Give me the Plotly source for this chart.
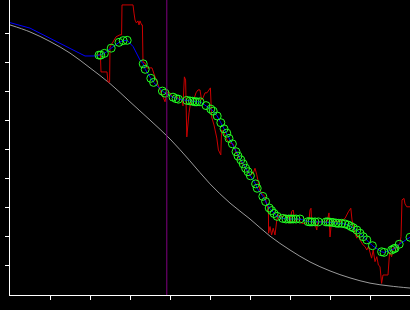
import plotly.graph_objects as go

# Reference (gray) curve
gray_x = [0, 0.5, 1, 1.5, 2, 2.5, 3, 3.5, 4, 4.5, 5, 5.5, 6, 6.5, 7, 7.5, 8, 8.5, 9, 9.5, 10]
gray_y = [9.31, 9.07, 8.74, 8.34, 7.83, 7.29, 6.66, 6.03, 5.38, 4.62, 3.83, 3.17, 2.62, 2.03,
          1.55, 1.14, 0.83, 0.59, 0.41, 0.31, 0.24]

# Raw (red) series
red_x = [2.17, 2.26, 2.275, 2.425, 2.45, 2.49, 2.5, 2.65, 2.75, 2.79, 2.80, 3.075, 3.10, 3.125,
         3.16, 3.2, 3.225, 3.25, 3.29, 3.31, 3.325, 3.375, 3.425, 3.55, 3.6, 3.65, 3.7, 3.75,
         3.825, 3.875, 3.925, 4.0, 4.05, 4.2, 4.3, 4.325, 4.36, 4.39, 4.42, 4.475, 4.525, 4.575,
         4.65, 4.7, 4.75, 4.79, 4.825, 4.875, 4.925, 4.975, 5.01, 5.04, 5.1, 5.17, 5.21, 5.27,
         5.29, 5.35, 5.425, 5.5, 5.575, 5.65, 5.75, 5.85, 5.95, 6.0, 6.08, 6.125, 6.17, 6.21,
         6.25, 6.29, 6.375, 6.42, 6.46, 6.465, 6.5, 6.54, 6.58, 6.625, 6.67, 6.71, 6.79, 6.875,
         6.96, 7.0, 7.04, 7.08, 7.125, 7.2, 7.29, 7.375, 7.475, 7.5, 7.525, 7.54, 7.625, 7.67,
         7.69, 7.79, 7.925, 7.975, 8.0, 8.04, 8.08, 8.25, 8.375, 8.46, 8.52, 8.55, 8.58, 8.625,
         8.67, 8.71, 8.75, 8.83, 8.875, 8.92, 8.96, 9.0, 9.04, 9.08, 9.125, 9.17, 9.21, 9.25,
         9.29, 9.325, 9.45, 9.49, 9.54, 9.58, 9.67, 9.75, 9.775, 9.8, 9.85, 9.875, 9.92, 10.0]
red_y = [8.28, 8.28, 7.69, 7.69, 7.34, 7.34, 8.55, 8.90, 8.97, 8.97, 10.0, 10.0, 9.72, 9.48,
         9.38, 9.45, 9.31, 9.45, 9.31, 9.31, 8.03, 8.0, 7.83, 7.83, 7.62, 7.41, 7.21, 7.07,
         6.83, 6.66, 6.97, 6.97, 6.83, 6.79, 6.72, 6.52, 7.52, 7.41, 5.45, 6.28, 6.72, 6.66,
         6.97, 7.07, 7.07, 6.72, 6.79, 6.97, 6.97, 7.10, 7.14, 6.14, 5.86, 5.41, 5.0, 4.83,
         5.69, 5.59, 5.34, 5.24, 5.21, 4.93, 4.66, 4.45, 4.24, 4.14, 4.20, 4.37, 4.14, 3.85,
         3.62, 3.51, 3.39, 3.10, 2.93, 2.13, 2.36, 2.07, 2.30, 2.07, 2.59, 2.76, 2.70, 2.76,
         2.70, 2.47, 2.87, 2.93, 2.53, 2.62, 2.47, 2.47, 2.59, 2.93, 2.99, 2.53, 2.47, 2.24,
         2.53, 2.53, 2.52, 2.83, 2.0, 2.55, 2.53, 2.53, 2.64, 2.87, 2.99, 2.59, 2.36, 2.13,
         1.96, 2.07, 1.90, 1.72, 1.67, 1.55, 1.67, 1.44, 1.27, 1.55, 1.15, 1.32, 1.03, 0.98,
         0.40, 0.69, 0.69, 1.48, 1.32, 1.62, 1.61, 1.79, 2.01, 3.28, 3.33, 3.14, 3.04, 3.04]

# Smoothed (blue) series
blue_x = [0, 0.25, 0.5, 1.0, 1.42, 1.75, 1.875, 2.17,
          2.225, 2.27, 2.36, 2.53, 2.725, 2.83, 2.93, 3.08, 3.17, 3.25,
          3.33, 3.38, 3.52, 3.59, 3.81, 3.875, 4.075, 4.15, 4.21, 4.42, 4.5, 4.56, 4.625,
          4.67, 4.75, 4.9, 5.02, 5.08, 5.18, 5.27, 5.35, 5.42, 5.475, 5.56, 5.65, 5.7, 5.77,
          5.83, 5.89, 5.95, 6.01, 6.14, 6.18, 6.32, 6.39, 6.48, 6.54, 6.6, 6.68, 6.82, 6.9,
          6.97, 7.025, 7.08, 7.15, 7.25, 7.45, 7.5, 7.55, 7.625, 7.71, 7.9, 7.95, 8.0, 8.075,
          8.15, 8.21, 8.29, 8.375, 8.46, 8.525, 8.58, 8.67, 8.75, 8.83, 8.92, 9.06, 9.29,
          9.35, 9.54, 9.59, 9.625, 9.73, 10.0]
blue_y = [9.39, 9.29, 9.20, 8.85, 8.56, 8.33, 8.24, 8.24,
          8.27, 8.27, 8.33, 8.51, 8.71, 8.77, 8.78, 8.56, 8.33, 8.10,
          7.97, 7.78, 7.47, 7.33, 7.03, 6.96, 6.82, 6.77, 6.75, 6.71, 6.69, 6.68, 6.66,
          6.66, 6.66, 6.53, 6.41, 6.34, 6.17, 5.94, 5.73, 5.58, 5.40, 5.21, 4.94, 4.79, 4.66,
          4.52, 4.37, 4.25, 4.11, 3.83, 3.68, 3.40, 3.22, 3.00, 2.91, 2.81, 2.71, 2.64, 2.62,
          2.62, 2.62, 2.62, 2.62, 2.62, 2.53, 2.52, 2.52, 2.52, 2.52, 2.52, 2.52, 2.51, 2.50,
          2.48, 2.47, 2.47, 2.45, 2.41, 2.36, 2.32, 2.24, 2.13, 2.01, 1.90, 1.70, 1.49,
          1.47, 1.55, 1.59, 1.61, 1.75, 1.99]

# Selected points (green circles)
mark_x = [2.225, 2.27, 2.36, 2.53, 2.725, 2.83, 2.93,
          3.33, 3.38, 3.52, 3.59, 3.81, 3.875, 4.075, 4.15, 4.21, 4.42, 4.5, 4.56, 4.625,
          4.67, 4.75, 4.9, 5.02, 5.08, 5.18, 5.27, 5.35, 5.42, 5.475, 5.56, 5.65, 5.7, 5.77,
          5.83, 5.89, 5.95, 6.01, 6.14, 6.18, 6.32, 6.39, 6.48, 6.54, 6.6, 6.68, 6.82, 6.9,
          6.97, 7.025, 7.08, 7.15, 7.25, 7.45, 7.5, 7.55, 7.625, 7.71, 7.9, 7.95, 8.0, 8.075,
          8.15, 8.21, 8.29, 8.375, 8.46, 8.525, 8.58, 8.67, 8.75, 8.83, 8.92, 9.06, 9.29,
          9.35, 9.54, 9.59, 9.625, 9.73, 10.0]
mark_y = [8.27, 8.27, 8.33, 8.51, 8.71, 8.77, 8.78,
          7.97, 7.78, 7.47, 7.33, 7.03, 6.96, 6.82, 6.77, 6.75, 6.71, 6.69, 6.68, 6.66,
          6.66, 6.66, 6.53, 6.41, 6.34, 6.17, 5.94, 5.73, 5.58, 5.40, 5.21, 4.94, 4.79, 4.66,
          4.52, 4.37, 4.25, 4.11, 3.83, 3.68, 3.40, 3.22, 3.00, 2.91, 2.81, 2.71, 2.64, 2.62,
          2.62, 2.62, 2.62, 2.62, 2.62, 2.53, 2.52, 2.52, 2.52, 2.52, 2.52, 2.52, 2.51, 2.50,
          2.48, 2.47, 2.47, 2.45, 2.41, 2.36, 2.32, 2.24, 2.13, 2.01, 1.90, 1.70, 1.49,
          1.47, 1.55, 1.59, 1.61, 1.75, 1.99]

vline_x = 3.92
x_ticks = [1, 2, 3, 4, 5, 6, 7, 8, 9]
y_ticks = [1, 2, 3, 4, 5, 6, 7, 8, 9]

fig = go.Figure()
fig.add_trace(go.Scatter(x=gray_x, y=gray_y, mode="lines",
                         line=dict(color="#9a9a9a", width=1, shape="spline"), hoverinfo="skip"))
fig.add_vline(x=vline_x, line=dict(color="#800080", width=1))
fig.add_trace(go.Scatter(x=red_x, y=red_y, mode="lines",
                         line=dict(color="#cc0000", width=1), hoverinfo="skip"))
fig.add_trace(go.Scatter(x=blue_x, y=blue_y, mode="lines",
                         line=dict(color="#0000ff", width=1), hoverinfo="skip"))
fig.add_trace(go.Scatter(x=mark_x, y=mark_y, mode="markers",
                         marker=dict(symbol="circle-open", size=8, color="#22ff22",
                                     line=dict(width=1, color="#22ff22")),
                         hoverinfo="skip"))

axis_common = dict(showgrid=False, zeroline=False, showline=True, linecolor="white",
                   linewidth=1, ticks="outside", ticklen=4, tickcolor="white",
                   tickwidth=1, showticklabels=False)
fig.update_layout(
    width=410, height=310,
    margin=dict(l=10, r=0, t=0, b=15),
    paper_bgcolor="black", plot_bgcolor="black",
    showlegend=False,
    xaxis=dict(range=[0, 10], tickvals=x_ticks, **axis_common),
    yaxis=dict(range=[0, 10.17], tickvals=y_ticks, **axis_common),
)
fig.write_html("out.html")
